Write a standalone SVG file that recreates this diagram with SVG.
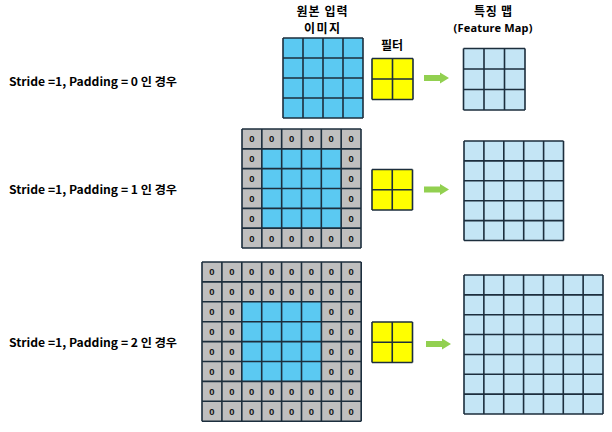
<svg xmlns="http://www.w3.org/2000/svg" width="612" height="432" viewBox="0 0 612 432">
<style>
.lbl{font-family:"Noto Sans CJK KR","Noto Sans",sans-serif;font-weight:bold;font-size:11.5px;fill:#000}
.hdr{font-family:"Noto Sans CJK KR","Noto Sans",sans-serif;font-weight:bold;font-size:12px;fill:#000;text-anchor:middle}
.hdl{font-family:"Noto Sans",sans-serif;font-weight:bold;font-size:11px;fill:#000;text-anchor:middle}
.z{font-family:"Liberation Sans",Arial,sans-serif;font-weight:bold;font-size:9.5px;fill:#111;text-anchor:middle;dominant-baseline:central}
.gl{fill:none;stroke:#1C2E3D;stroke-width:1.6}
.blue{fill:#5BC9F2}
.gray{fill:#BFBFBF}
.yel{fill:#FFFF00}
.lb{fill:#C4E5F5}
.arr{fill:#92D050}
</style>
<rect width="612" height="432" fill="#fff"/>
<g id="labels">
<text class="lbl" x="9" y="86" textLength="168" lengthAdjust="spacingAndGlyphs">Stride =1, Padding = 0 인 경우</text>
<text class="lbl" x="9" y="194" textLength="168" lengthAdjust="spacingAndGlyphs">Stride =1, Padding = 1 인 경우</text>
<text class="lbl" x="9" y="347" textLength="168" lengthAdjust="spacingAndGlyphs">Stride =1, Padding = 2 인 경우</text>
<text class="hdr" x="322" y="15.5" textLength="51">원본 입력</text>
<text class="hdr" x="322" y="32.5" textLength="36">이미지</text>
<text class="hdr" x="392" y="50">필터</text>
<text class="hdr" x="493" y="15.5" textLength="38">특징 맵</text>
<text class="hdl" x="493" y="32" textLength="79">(Feature Map)</text>
</g>
<g id="input1">
<rect class="blue" x="283" y="38" width="80" height="80"/>
<path class="gl" d="M283 38V118M303 38V118M323 38V118M343 38V118M363 38V118M283 38H363M283 58H363M283 78H363M283 98H363M283 118H363"/>
</g>
<g id="filter1">
<rect class="yel" x="372" y="58.5" width="41" height="41"/>
<path class="gl" d="M372 58.5V99.5M392.5 58.5V99.5M413 58.5V99.5M372 58.5H413M372 79H413M372 99.5H413"/>
</g>
<g id="fmap1">
<rect class="lb" x="463.5" y="48.5" width="61.5" height="61.5"/>
<path class="gl" d="M463.5 48.5V110M484 48.5V110M504.5 48.5V110M525 48.5V110M463.5 48.5H525M463.5 69H525M463.5 89.5H525M463.5 110H525"/>
</g>
<g id="input2">
<rect class="gray" x="242" y="129" width="119" height="119"/>
<rect class="blue" x="261.83" y="148.83" width="79.34" height="79.34"/>
<path class="gl" d="M242 129V248M261.83 129V248M281.67 129V248M301.5 129V248M321.33 129V248M341.17 129V248M361 129V248M242 129H361M242 148.83H361M242 168.67H361M242 188.5H361M242 208.33H361M242 228.17H361M242 248H361"/>
<text class="z" x="251.92" y="138.92">0</text><text class="z" x="271.75" y="138.92">0</text><text class="z" x="291.58" y="138.92">0</text><text class="z" x="311.42" y="138.92">0</text><text class="z" x="331.25" y="138.92">0</text><text class="z" x="351.08" y="138.92">0</text>
<text class="z" x="251.92" y="158.75">0</text><text class="z" x="351.08" y="158.75">0</text>
<text class="z" x="251.92" y="178.58">0</text><text class="z" x="351.08" y="178.58">0</text>
<text class="z" x="251.92" y="198.42">0</text><text class="z" x="351.08" y="198.42">0</text>
<text class="z" x="251.92" y="218.25">0</text><text class="z" x="351.08" y="218.25">0</text>
<text class="z" x="251.92" y="238.08">0</text><text class="z" x="271.75" y="238.08">0</text><text class="z" x="291.58" y="238.08">0</text><text class="z" x="311.42" y="238.08">0</text><text class="z" x="331.25" y="238.08">0</text><text class="z" x="351.08" y="238.08">0</text>
</g>
<g id="filter2">
<rect class="yel" x="372" y="169.5" width="40.5" height="40.5"/>
<path class="gl" d="M372 169.5V210M392.25 169.5V210M412.5 169.5V210M372 169.5H412.5M372 189.75H412.5M372 210H412.5"/>
</g>
<g id="fmap2">
<rect class="lb" x="464" y="141" width="99.5" height="99.5"/>
<path class="gl" d="M464 141V240.5M483.9 141V240.5M503.8 141V240.5M523.7 141V240.5M543.6 141V240.5M563.5 141V240.5M464 141H563.5M464 160.9H563.5M464 180.8H563.5M464 200.7H563.5M464 220.6H563.5M464 240.5H563.5"/>
</g>
<g id="input3">
<rect class="gray" x="202" y="262" width="159.2" height="159.2"/>
<rect class="blue" x="241.8" y="301.8" width="79.6" height="79.6"/>
<path class="gl" d="M202 262V421.2M221.9 262V421.2M241.8 262V421.2M261.7 262V421.2M281.6 262V421.2M301.5 262V421.2M321.4 262V421.2M341.3 262V421.2M361.2 262V421.2M202 262H361.2M202 281.9H361.2M202 301.8H361.2M202 321.7H361.2M202 341.6H361.2M202 361.5H361.2M202 381.4H361.2M202 401.3H361.2M202 421.2H361.2"/>
<text class="z" x="211.95" y="271.95">0</text><text class="z" x="231.85" y="271.95">0</text><text class="z" x="251.75" y="271.95">0</text><text class="z" x="271.65" y="271.95">0</text><text class="z" x="291.55" y="271.95">0</text><text class="z" x="311.45" y="271.95">0</text><text class="z" x="331.35" y="271.95">0</text><text class="z" x="351.25" y="271.95">0</text>
<text class="z" x="211.95" y="291.85">0</text><text class="z" x="231.85" y="291.85">0</text><text class="z" x="251.75" y="291.85">0</text><text class="z" x="271.65" y="291.85">0</text><text class="z" x="291.55" y="291.85">0</text><text class="z" x="311.45" y="291.85">0</text><text class="z" x="331.35" y="291.85">0</text><text class="z" x="351.25" y="291.85">0</text>
<text class="z" x="211.95" y="311.75">0</text><text class="z" x="231.85" y="311.75">0</text><text class="z" x="331.35" y="311.75">0</text><text class="z" x="351.25" y="311.75">0</text>
<text class="z" x="211.95" y="331.65">0</text><text class="z" x="231.85" y="331.65">0</text><text class="z" x="331.35" y="331.65">0</text><text class="z" x="351.25" y="331.65">0</text>
<text class="z" x="211.95" y="351.55">0</text><text class="z" x="231.85" y="351.55">0</text><text class="z" x="331.35" y="351.55">0</text><text class="z" x="351.25" y="351.55">0</text>
<text class="z" x="211.95" y="371.45">0</text><text class="z" x="231.85" y="371.45">0</text><text class="z" x="331.35" y="371.45">0</text><text class="z" x="351.25" y="371.45">0</text>
<text class="z" x="211.95" y="391.35">0</text><text class="z" x="231.85" y="391.35">0</text><text class="z" x="251.75" y="391.35">0</text><text class="z" x="271.65" y="391.35">0</text><text class="z" x="291.55" y="391.35">0</text><text class="z" x="311.45" y="391.35">0</text><text class="z" x="331.35" y="391.35">0</text><text class="z" x="351.25" y="391.35">0</text>
<text class="z" x="211.95" y="411.25">0</text><text class="z" x="231.85" y="411.25">0</text><text class="z" x="251.75" y="411.25">0</text><text class="z" x="271.65" y="411.25">0</text><text class="z" x="291.55" y="411.25">0</text><text class="z" x="311.45" y="411.25">0</text><text class="z" x="331.35" y="411.25">0</text><text class="z" x="351.25" y="411.25">0</text>
</g>
<g id="filter3">
<rect class="yel" x="372" y="322" width="40.5" height="40.5"/>
<path class="gl" d="M372 322V362.5M392.25 322V362.5M412.5 322V362.5M372 322H412.5M372 342.25H412.5M372 362.5H412.5"/>
</g>
<g id="fmap3">
<rect class="lb" x="464" y="275" width="139" height="139"/>
<path class="gl" d="M464 275V414M483.86 275V414M503.71 275V414M523.57 275V414M543.43 275V414M563.29 275V414M583.14 275V414M603 275V414M464 275H603M464 294.86H603M464 314.71H603M464 334.57H603M464 354.43H603M464 374.29H603M464 394.14H603M464 414H603"/>
</g>
<g id="connectors">
<polygon class="arr" points="424,75 440,75 440,72.5 449,78 440,83.5 440,81 424,81"/>
<polygon class="arr" points="424,186.5 440,186.5 440,184 449,189.5 440,195 440,192.5 424,192.5"/>
<polygon class="arr" points="426,341 442,341 442,338.5 451,344 442,349.5 442,347 426,347"/>
</g>
</svg>
